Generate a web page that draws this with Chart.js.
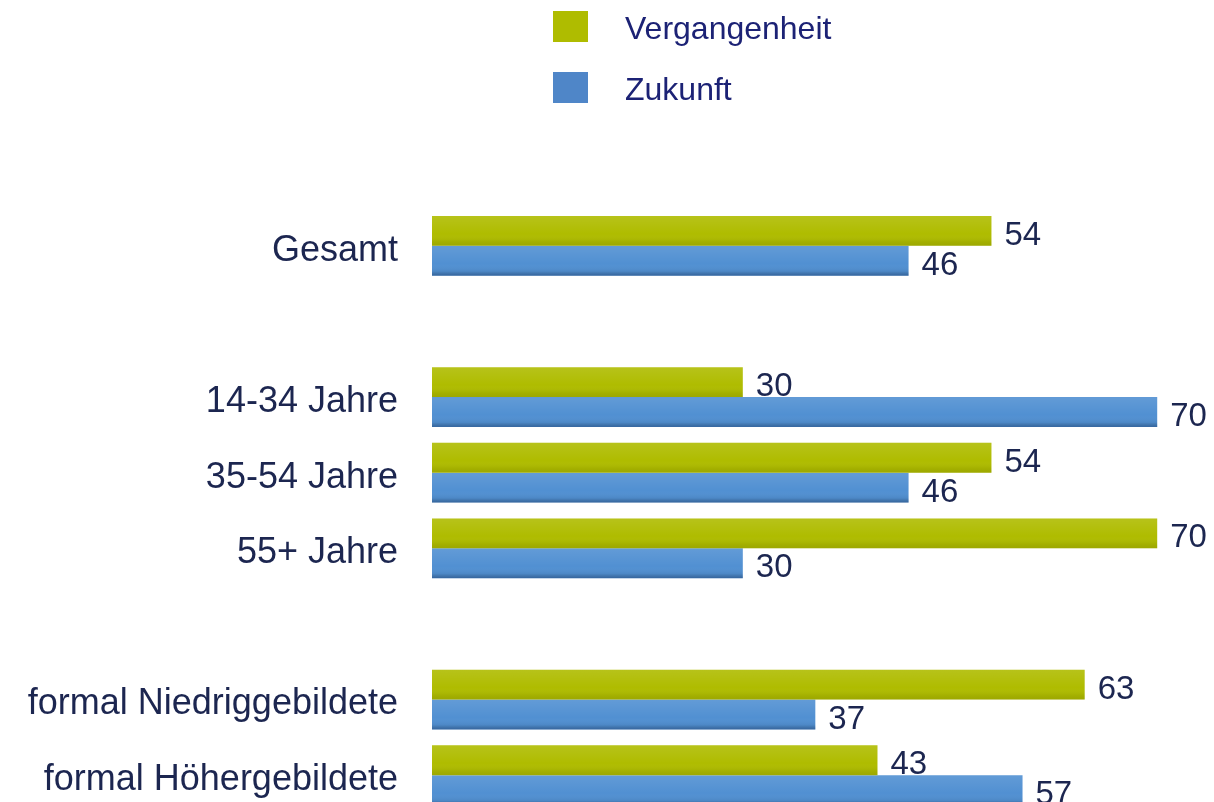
<!DOCTYPE html>
<html><head><meta charset="utf-8">
<script src="https://cdn.jsdelivr.net/npm/chart.js@4.4.1/dist/chart.umd.min.js"></script>
<style>
html,body{margin:0;padding:0;background:#fff;overflow:hidden;width:1214px;height:802px;}
#c{position:absolute;left:0;top:0;}
.lg{position:absolute;left:553px;font-family:"Liberation Sans",Arial,sans-serif;font-size:32px;color:#1c2275;}
.lg span.sw{position:absolute;left:0;top:0;width:35px;height:31px;}
.lg span.tx{position:absolute;left:72px;top:2px;line-height:31px;white-space:nowrap;}
</style></head>
<body>
<canvas id="c" width="1214" height="813"></canvas>
<div class="lg" style="top:11px"><span class="sw" style="background:#afbc00"></span><span class="tx">Vergangenheit</span></div>
<div class="lg" style="top:72px"><span class="sw" style="background:#4f86c8"></span><span class="tx">Zukunft</span></div>
<script>
const categories = ["Gesamt", "", "14-34 Jahre", "35-54 Jahre", "55+ Jahre", "", "formal Niedriggebildete", "formal Höhergebildete"];
const vergangenheit = [54, null, 30, 54, 70, null, 63, 43];
const zukunft = [46, null, 70, 46, 30, null, 37, 57];
const seriesNames = ["Vergangenheit", "Zukunft"];

const FONT = '"Liberation Sans", Arial, sans-serif';

const valueLabels = {
  id: 'valueLabels',
  afterDatasetsDraw(chart) {
    const ctx = chart.ctx;
    ctx.save();
    chart.data.datasets.forEach((ds, di) => {
      const meta = chart.getDatasetMeta(di);
      meta.data.forEach((el, i) => {
        const v = ds.data[i];
        if (v === null || v === undefined) return;
        const p = el.getProps(['x', 'y', 'base', 'height'], true);
        const top = p.y - p.height / 2, bot = p.y + p.height / 2;
        const g = ctx.createLinearGradient(0, top, 0, bot);
        g.addColorStop(0, 'rgba(255,255,255,0.10)');
        g.addColorStop(0.6, 'rgba(255,255,255,0)');
        g.addColorStop(0.85, 'rgba(0,0,0,0.06)');
        g.addColorStop(1, di === 1 ? 'rgba(0,20,60,0.35)' : 'rgba(60,60,0,0.15)');
        ctx.fillStyle = g;
        ctx.fillRect(p.base, top, p.x - p.base, p.height);
        ctx.fillStyle = '#1c2650';
        ctx.font = '33px ' + FONT;
        ctx.textAlign = 'left';
        ctx.textBaseline = 'middle';
        ctx.fillText(String(v), p.x + 13, p.y + 5);
      });
    });
    ctx.restore();
  }
};

new Chart(document.getElementById('c'), {
  type: 'bar',
  data: {
    labels: categories,
    datasets: [
      { label: seriesNames[0], data: vergangenheit, backgroundColor: '#afbc00', categoryPercentage: 0.79, barPercentage: 1.0 },
      { label: seriesNames[1], data: zukunft, backgroundColor: '#5190d2', categoryPercentage: 0.79, barPercentage: 1.0 }
    ]
  },
  options: {
    indexAxis: 'y',
    responsive: false,
    animation: false,
    layout: { padding: { top: 208, right: 5, bottom: 0, left: 0 } },
    plugins: { legend: { display: false }, tooltip: { enabled: false } },
    scales: {
      x: { display: false, min: 0, max: 75 },
      y: {
        grid: { display: false, drawTicks: false },
        border: { display: false },
        ticks: { color: '#1c2650', font: { family: FONT, size: 36 }, padding: 34, labelOffset: 5 },
        afterFit(scale) { scale.width = 432; scale.paddingTop = 0; scale.paddingBottom = 0; }
      }
    }
  },
  plugins: [valueLabels]
});
</script>
</body></html>
